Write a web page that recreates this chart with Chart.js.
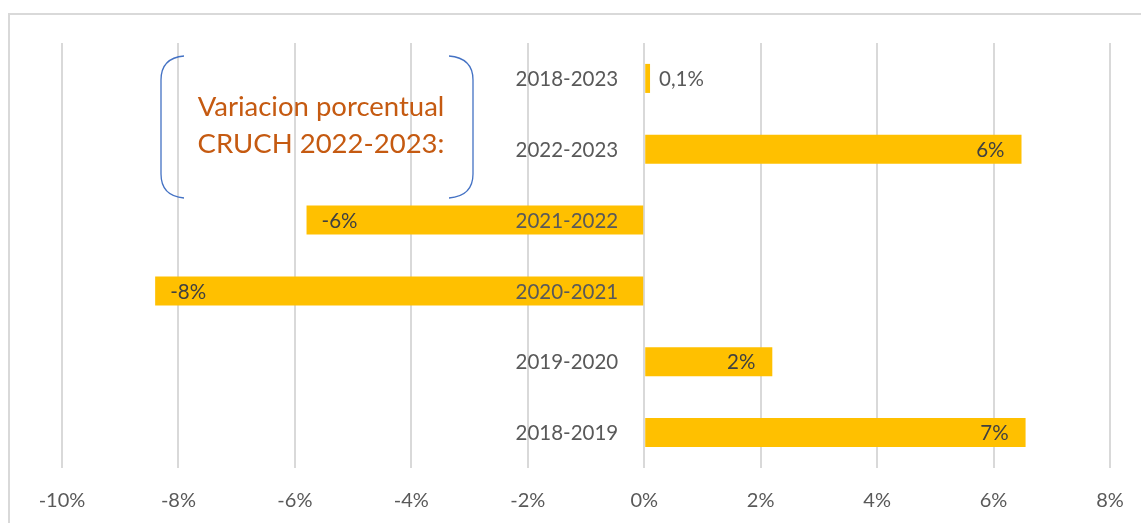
<!DOCTYPE html>
<html>
<head>
<meta charset="utf-8">
<script src="https://cdn.jsdelivr.net/npm/chart.js@4/dist/chart.umd.min.js"></script>
<style>
  html, body { margin: 0; padding: 0; background: #fff; }
  #wrap { position: relative; width: 1141px; height: 523px; }
</style>
</head>
<body>
<div id="wrap"><canvas id="variacionChart"></canvas></div>
<script>
// datos
const periodos = ['2018-2023', '2022-2023', '2021-2022', '2020-2021', '2019-2020', '2018-2019'];
const variacion = [0.1, 6.48, -5.8, -8.4, 2.2, 6.55];
const ticksX = [-10, -8, -6, -4, -2, 0, 2, 4, 6, 8];
const notaLineas = ['Variacion porcentual', 'CRUCH 2022-2023:'];

const FONT = 'Lato, "Open Sans", sans-serif';
const GRIS = '#595959';

const fmt = v => {
    if (Math.abs(v) < 1) return v.toFixed(1).replace('.', ',') + '%';
    return Math.round(v) + '%';
};

// borde del grafico
const bordePlugin = {
    id: 'borde',
    beforeDraw(chart) {
        const ctx = chart.ctx;
        ctx.save();
        ctx.fillStyle = '#fff';
        ctx.fillRect(0, 0, chart.width, chart.height);
        ctx.strokeStyle = '#D9D9D9';
        ctx.lineWidth = 2;
        ctx.strokeRect(9, 14, chart.width + 20, chart.height + 20);
        ctx.restore();
    }
};

// etiquetas de categorias y de datos
const etiquetasPlugin = {
    id: 'etiquetas',
    afterDatasetsDraw(chart) {
        const ctx = chart.ctx;
        const x = chart.scales.x;
        const meta = chart.getDatasetMeta(0);
        const x0 = x.getPixelForValue(0);
        ctx.save();
        ctx.textBaseline = 'middle';

        // categorias junto al eje
        ctx.font = '20.5px ' + FONT;
        ctx.fillStyle = GRIS;
        ctx.textAlign = 'right';
        meta.data.forEach((bar, i) => {
            ctx.fillText(periodos[i], x0 - 26, bar.y + 1);
        });

        // valores
        ctx.fillStyle = '#404040';
        meta.data.forEach((bar, i) => {
            const v = variacion[i];
            const txt = fmt(v);
            if (Math.abs(v) < 1) {
                ctx.textAlign = 'left';
                ctx.fillStyle = GRIS;
                ctx.fillText(txt, bar.x + 9, bar.y + 1);
                ctx.fillStyle = '#404040';
            } else if (v > 0) {
                ctx.textAlign = 'right';
                ctx.fillText(txt, bar.x - 17, bar.y + 1);
            } else {
                ctx.textAlign = 'left';
                ctx.fillText(txt, bar.x + 15, bar.y + 1);
            }
        });
        ctx.restore();
    }
};

// nota con llaves
const notaPlugin = {
    id: 'nota',
    afterDraw(chart) {
        const ctx = chart.ctx;
        const top = 56, bottom = 198, r = 24;
        const lx = 184, rx = 449;
        ctx.save();
        ctx.strokeStyle = '#4472C4';
        ctx.lineWidth = 1.3;
        ctx.beginPath();
        ctx.moveTo(lx, top);
        ctx.quadraticCurveTo(lx - 23, top + 2, lx - 23, top + r);
        ctx.lineTo(lx - 23, bottom - r);
        ctx.quadraticCurveTo(lx - 23, bottom - 2, lx, bottom);
        ctx.stroke();
        ctx.beginPath();
        ctx.moveTo(rx, top);
        ctx.quadraticCurveTo(rx + 24, top + 2, rx + 24, top + r);
        ctx.lineTo(rx + 24, bottom - r);
        ctx.quadraticCurveTo(rx + 24, bottom - 2, rx, bottom);
        ctx.stroke();

        ctx.fillStyle = '#C55A11';
        ctx.font = '27.5px ' + FONT;
        ctx.textAlign = 'center';
        ctx.textBaseline = 'middle';
        ctx.fillText(notaLineas[0], 321, 107);
        ctx.fillText(notaLineas[1], 321, 144);
        ctx.restore();
    }
};

new Chart(document.getElementById('variacionChart'), {
    type: 'bar',
    data: {
        labels: periodos,
        datasets: [{
            data: variacion,
            backgroundColor: '#FFC000',
            borderWidth: 0,
            barPercentage: 0.41,
            categoryPercentage: 1,
        }]
    },
    options: {
        indexAxis: 'y',
        responsive: true,
        maintainAspectRatio: false,
        animation: false,
        layout: { padding: { left: 62, right: 31, top: 43, bottom: 0 } },
        plugins: {
            legend: { display: false },
            tooltip: { enabled: false },
        },
        scales: {
            x: {
                min: -10,
                max: 8,
                afterBuildTicks: s => { s.ticks = ticksX.map(v => ({ value: v })); },
                afterFit: s => {
                    s.height = 55;
                    s.paddingLeft = 0;
                    s.paddingRight = 0;
                },
                grid: { color: '#D9D9D9', lineWidth: 2, drawTicks: false },
                border: { display: false },
                ticks: {
                    padding: 21,
                    color: GRIS,
                    font: { family: FONT, size: 20 },
                    callback: v => v + '%',
                },
            },
            y: {
                display: false,
            }
        }
    },
    plugins: [bordePlugin, etiquetasPlugin, notaPlugin]
});
</script>
</body>
</html>
